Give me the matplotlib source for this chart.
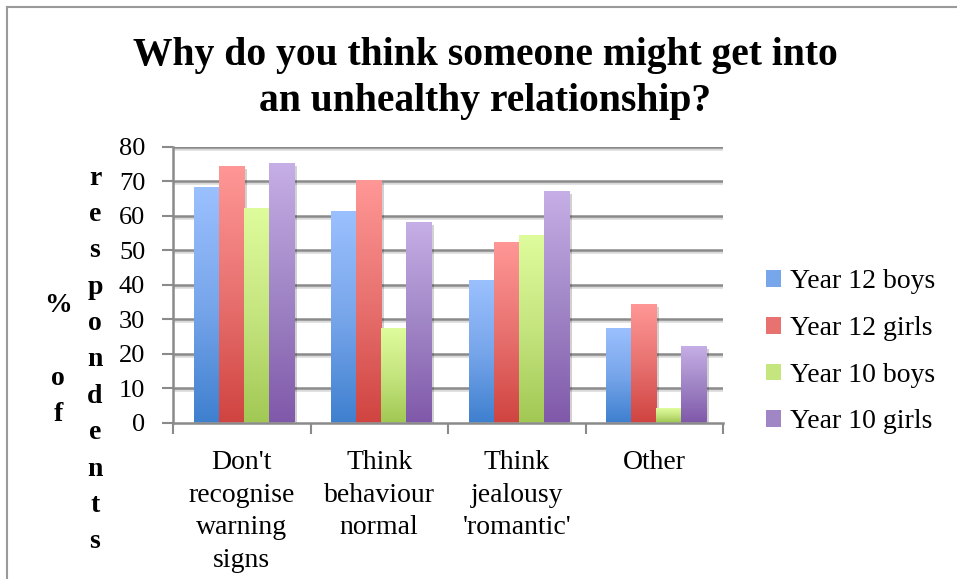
import numpy as np
import matplotlib
matplotlib.use('Agg')
from matplotlib import pyplot as plt
from matplotlib import patheffects as pe
from matplotlib.patches import Patch
from matplotlib.colors import to_rgb

categories = ["Don't\nrecognise\nwarning\nsigns", "Think\nbehaviour\nnormal",
              "Think\njealousy\n'romantic'", "Other"]
series = ['Year 12 boys', 'Year 12 girls', 'Year 10 boys', 'Year 10 girls']
y12_boys = [68, 61, 41, 27]
y12_girls = [74, 70, 52, 34]
y10_boys = [62, 27, 54, 4]
y10_girls = [75, 58, 67, 22]
yticks = list(range(0, 81, 10))

# top / middle / bottom colours of each bar gradient
grads = [('#9bc0fe', '#78a6eb', '#3f80cf'),
         ('#ff9796', '#e87270', '#d04441'),
         ('#dffc9c', '#c5e57f', '#a2c854'),
         ('#c6aee6', '#a186c6', '#8059aa')]

serif = 'Liberation Serif'
W, H = 957, 579
fig = plt.figure(figsize=(W/100, H/100), dpi=100)
ax = fig.add_axes([173/W, 1-422.5/H, 550/W, (422.5-146.7)/H])

def gradient(top, mid, bot, n=256):
    t = np.linspace(0, 1, n)[:, None]
    a, b, c = (np.array(to_rgb(x)) for x in (top, mid, bot))
    up = a + (b-a)*np.clip(t*2, 0, 1)
    lo = b + (c-b)*np.clip(t*2-1, 0, 1)
    img = np.where(t < 0.5, up, lo)
    return img[:, None, :]

x = np.arange(len(categories))
w = 0.182
shadow = [pe.SimplePatchShadow(offset=(2, -1.5), shadow_rgbFace='k', alpha=0.18), pe.Normal()]
for i, (vals, g) in enumerate(zip([y12_boys, y12_girls, y10_boys, y10_girls], grads)):
    bars = ax.bar(x + (i-1.5)*w + 0.015, vals, w, color=g[1], zorder=2, path_effects=shadow)
    img = gradient(*g)
    for b in bars:
        ax.imshow(img, extent=[b.get_x(), b.get_x()+b.get_width(), 0, b.get_height()],
                  aspect='auto', interpolation='bilinear', zorder=3)

ax.set_xlim(-0.5, len(categories)-0.5)
ax.set_ylim(0, 80)
ax.set_yticks(yticks)
ax.set_yticklabels([str(v) for v in yticks], fontfamily=serif, fontsize=19)

gridc = '#8a8a8a'
for v in yticks[1:]:
    ax.axhline(v, color=gridc, lw=1.8, zorder=1,
               path_effects=[pe.SimpleLineShadow(offset=(0, -1.5), alpha=0.15), pe.Normal()])

ax.set_xticks(x)
ax.set_xticklabels(categories, fontfamily=serif, fontsize=20, linespacing=1.4)
ax.set_xticks(np.arange(len(categories)+1)-0.5, minor=True)
ax.tick_params(axis='x', which='major', length=0, pad=20)
ax.tick_params(axis='x', which='minor', length=8, width=1.5, color=gridc, direction='out')
ax.tick_params(axis='y', length=8, width=1.5, color=gridc, direction='out', pad=12)
for s in ['top', 'right']:
    ax.spines[s].set_visible(False)
for s in ['left', 'bottom']:
    ax.spines[s].set_color(gridc)
    ax.spines[s].set_linewidth(1.8)
    ax.spines[s].set_zorder(4)

# y label, one letter per line in two columns
col1 = '% of'
col2 = 'respondents'
step = 36.4
for chars, xp in [(col1, 58), (col2, 95)]:
    y0 = 360 - step*(len(chars)-1)/2
    for k, ch in enumerate(chars):
        fig.text(xp/W, 1-(y0+k*step)/H, ch, ha='center', va='center',
                 fontfamily=serif, fontweight='bold', fontsize=20)

fig.text(485/W, 1-55/H, 'Why do you think someone might get into', ha='center', va='center',
         fontfamily=serif, fontweight='bold', fontsize=28.5)
fig.text(485/W, 1-101/H, 'an unhealthy relationship?', ha='center', va='center',
         fontfamily=serif, fontweight='bold', fontsize=28.5)

handles = [Patch(facecolor=g[1]) for g in grads]
fig.legend(handles, series, loc='center left', bbox_to_anchor=(766/W, 1-352/H),
           frameon=False, borderpad=0, borderaxespad=0, handlelength=0.55, handleheight=0.55,
           handletextpad=0.3, labelspacing=0.78, prop={'family': serif, 'size': 20})

# outer chart frame
fig.add_artist(plt.Line2D([7/W, 7/W], [0, 1-7/H], color='#9a9a9a', lw=1.5))
fig.add_artist(plt.Line2D([7/W, 1], [1-7/H, 1-7/H], color='#9a9a9a', lw=1.5))

fig.savefig('out.png', dpi=100)
